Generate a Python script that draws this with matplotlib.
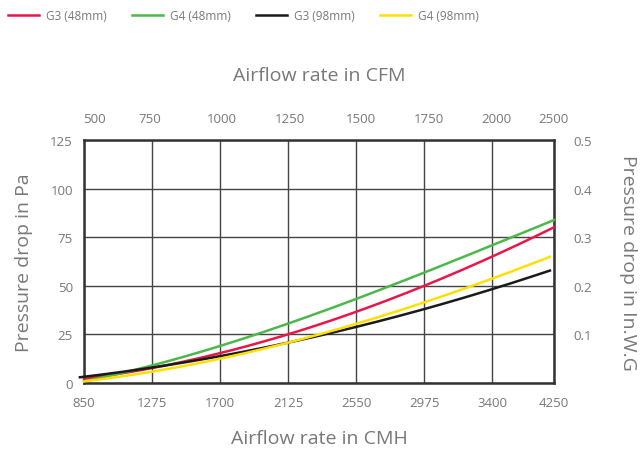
import numpy as np
import matplotlib.pyplot as plt

plt.rcParams['font.family'] = ['Open Sans', 'DejaVu Sans']

# x positions are grid-cell units (one cell per CMH tick step)
x_pos = [0, 1, 2, 3, 4, 5, 6, 6.91]
cmh_labels = ['850', '1275', '1700', '2125', '2550', '2975', '3400', '4250']
cfm_pos = [0.16, 0.97, 2.03, 3.03, 4.07, 5.07, 6.06, 6.9]
cfm_labels = ['500', '750', '1000', '1250', '1500', '1750', '2000', '2500']

g3_48 = [2, 8, 15, 26, 35, 51, 65, 80]
g4_48 = [1, 8.7, 19, 31, 43, 57, 70.5, 84]
g3_98_x = [-0.06, 1, 2, 3, 4, 5, 6, 6.85]
g3_98 = [3, 8, 13.5, 21, 29, 38, 48, 58]
g4_98_x = [0, 1, 2, 3, 4, 5, 6, 6.85]
g4_98 = [1, 5.5, 12.5, 21.5, 29.5, 42, 53.5, 65]

pa_ticks = [0, 25, 50, 75, 100, 125]
inwg_ticks = [0.1, 0.2, 0.3, 0.4, 0.5]

series = [
    ('G3 (48mm)', x_pos, g3_48, '#e8174a'),
    ('G4 (48mm)', x_pos, g4_48, '#4cb848'),
    ('G3 (98mm)', g3_98_x, g3_98, '#1a1a1a'),
    ('G4 (98mm)', g4_98_x, g4_98, '#ffe000'),
]

txt = '#77787b'

fig = plt.figure(figsize=(6.43, 4.52), dpi=100)
ax = fig.add_axes([0.1306, 0.1504, 0.7310, 0.5376])

handles = []
for name, xs, ys, c in series:
    xx = np.linspace(xs[0], xs[-1], 200)
    # smooth through the read points
    coef = np.polyfit(xs, ys, 3)
    yy = np.polyval(coef, xx)
    h, = ax.plot(xx, yy, color=c, lw=1.8, label=name, clip_on=False, zorder=3)
    handles.append(h)

ax.set_xlim(0, 6.91)
ax.set_ylim(0, 125)
ax.set_xticks(x_pos)
ax.set_xticklabels(cmh_labels)
ax.set_yticks(pa_ticks)
ax.set_yticklabels([str(v) for v in pa_ticks])
ax.tick_params(axis='x', length=0, labelsize=9.5, labelcolor=txt, pad=9)
ax.tick_params(axis='y', length=0, labelsize=9.5, labelcolor=txt, pad=8)
ax.grid(True, color='#444444', lw=1)
ax.set_axisbelow(True)
for s in ax.spines.values():
    s.set_color('#333333')
    s.set_linewidth(1.8)
ax.set_xlabel('Airflow rate in CMH', fontsize=14, color=txt, labelpad=15)
ax.set_ylabel('Pressure drop in Pa', fontsize=14, color=txt, labelpad=12)

top = ax.twiny()
top.set_xlim(ax.get_xlim())
top.set_xticks(cfm_pos)
top.set_xticklabels(cfm_labels)
top.tick_params(length=0, labelsize=9.5, labelcolor=txt, pad=11)
top.set_xlabel('Airflow rate in CFM', fontsize=14, color=txt, labelpad=23)
for s in top.spines.values():
    s.set_visible(False)

right = ax.twinx()
right.set_ylim(0, 0.5)
right.set_yticks(inwg_ticks)
right.set_yticklabels([str(v) for v in inwg_ticks])
right.tick_params(length=0, labelsize=9.5, labelcolor=txt, pad=14)
right.set_ylabel('Pressure drop in In.W.G', fontsize=14, color=txt,
                 rotation=270, labelpad=32)
for s in right.spines.values():
    s.set_visible(False)

fig.legend(handles=handles, loc='upper left', bbox_to_anchor=(8 / 643, 0.978),
           ncol=4, frameon=False, fontsize=8.5, labelcolor=txt,
           borderaxespad=0, borderpad=0,
           handlelength=2.6, handletextpad=0.6, columnspacing=2.15)

fig.savefig('out.png', dpi=100)
